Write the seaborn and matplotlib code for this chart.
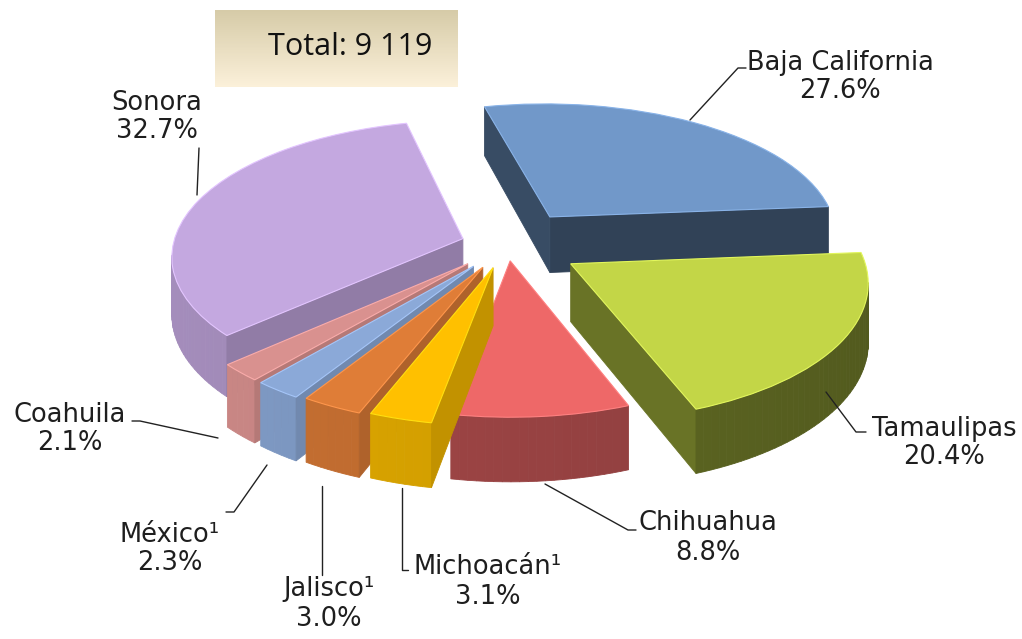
import numpy as np
import seaborn as sns
import matplotlib.pyplot as plt
import matplotlib.transforms as mtransforms
from matplotlib.colors import to_rgb
from matplotlib.patches import Polygon

# Datos: participación por entidad (%)
estados = ["Baja California", "Tamaulipas", "Chihuahua", "Michoacán¹",
           "Jalisco¹", "México¹", "Coahuila", "Sonora"]
porcentajes = [27.6, 20.4, 8.8, 3.1, 3.0, 2.3, 2.1, 32.7]
total = "9 119"
colores = ["#7198c9", "#c3d647", "#ee6868", "#ffc000",
           "#df7d37", "#8ba9d8", "#d9918f", "#c4a8e0"]
separacion = [0.26, 0.255, 0.115, 0.17, 0.18, 0.19, 0.19, 0.16]
# qué tan oscura es la pared lateral de cada rebanada
oscuridad = [0.44, 0.48, 0.64, 0.82, 0.84, 0.86, 0.88, 0.78]

sns.set_theme(style="white")
plt.rcParams['font.family'] = ['DejaVu Sans']

fig = plt.figure(figsize=(10.22, 6.39), dpi=100)
ax = fig.add_axes([0, 0, 1, 1])

cx_px, cy_px, r_px, aplast = 507, 245, 290, 0.47
prof = 57 / (r_px * aplast)
q = 0.12  # perspectiva: lo de atrás se ve más chico


class Perspectiva(mtransforms.Transform):
    input_dims = 2
    output_dims = 2

    def __init__(self, q):
        super().__init__()
        self.q = q

    def transform_non_affine(self, values):
        v = np.asarray(values, dtype=float)
        k = 1 - self.q * v[:, 1]
        return np.column_stack([v[:, 0] * k, v[:, 1] * k])


def proyectar(p, z=0.0):
    k = 1 - q * p[1]
    return np.array([p[0] * k, p[1] * k - z * k])


cunas, _ = ax.pie(porcentajes, explode=separacion, colors=colores,
                  startangle=104, counterclock=False, radius=1, center=(0, 0),
                  wedgeprops=dict(linewidth=0.8))
ax.set_aspect('auto')
ax.set_xlim((0 - cx_px) / r_px, (1022 - cx_px) / r_px)
ax.set_ylim((cy_px - 639) / (r_px * aplast), cy_px / (r_px * aplast))
ax.axis('off')
persp = Perspectiva(q)


def sombra(color, f):
    return tuple(np.clip(np.array(to_rgb(color)) * f, 0, 1))


def unit(a):
    return np.array([np.cos(np.radians(a)), np.sin(np.radians(a))])


def centroide(w):
    return np.array(w.center) + 0.5 * unit((w.theta1 + w.theta2) / 2)


orden = sorted(range(len(cunas)), key=lambda i: -centroide(cunas[i])[1])
for rango, i in enumerate(orden):
    w = cunas[i]
    c = colores[i]
    P = np.array(w.center)
    t1, t2 = w.theta1, w.theta2
    z = 2 + 2 * rango
    angs = np.linspace(t1, t2, max(int((t2 - t1) / 1.5), 2) + 1)
    # contorno de la cara superior en sentido antihorario, con su normal
    contorno = [P] + [P + unit(a) for a in angs]
    normales = [unit(t1 - 90)[0]] + [unit((a0 + a1) / 2)[0]
                                     for a0, a1 in zip(angs[:-1], angs[1:])]
    normales.append(unit(t2 + 90)[0])
    contorno.append(P)
    for (A, B), nx in zip(zip(contorno[:-1], contorno[1:]), normales):
        a_top, b_top = proyectar(A), proyectar(B)
        if b_top[0] - a_top[0] <= 1e-9:
            continue
        pts = [a_top, b_top, proyectar(B, prof), proyectar(A, prof)]
        col = sombra(c, oscuridad[i] - 0.06 * nx)
        ax.add_patch(Polygon(pts, closed=True, facecolor=col, edgecolor=col,
                             linewidth=0.6, zorder=z))
    w.set_transform(persp + ax.transData)
    w.set_zorder(z + 1)
    w.set_edgecolor(tuple(np.clip(np.array(to_rgb(c)) * 1.08 + 0.06, 0, 1)))

# capa de etiquetas en pixeles de la imagen
lab = fig.add_axes([0, 0, 1, 1], zorder=10)
lab.patch.set_alpha(0)

grad = np.linspace(0, 1, 100).reshape(-1, 1)
arriba, abajo = np.array(to_rgb("#d6cba8")), np.array(to_rgb("#fcf1da"))
img = arriba + (abajo - arriba) * grad[..., None]
img = np.repeat(img, 2, axis=1)
lab.imshow(img, extent=[215, 458, 87, 10], aspect='auto', zorder=1)
lab.text(350, 47, f"Total: {total}", ha='center', va='center', fontsize=22,
         family=['Open Sans', 'DejaVu Sans'], color='#111111', zorder=2)
lab.set_xlim(0, 1022)
lab.set_ylim(639, 0)
lab.axis('off')

pos_etiquetas = [(840, 77), (944, 443), (708, 538), (488, 582),
                 (329, 604), (170, 549), (70, 429), (157, 117)]
guias = [
    [(746, 68), (738, 68), (690, 120)],
    [(866, 432), (856, 432), (826, 392)],
    [(636, 530), (628, 530), (545, 484)],
    [(408, 570), (402, 570), (402, 488)],
    [(322, 575), (322, 486)],
    [(226, 512), (234, 512), (267, 465)],
    [(132, 421), (140, 421), (218, 438)],
    [(199, 148), (197, 195)],
]
for nombre, pct, (x, y), g in zip(estados, porcentajes, pos_etiquetas, guias):
    lab.text(x, y, f"{nombre}\n{pct:.1f}%", ha='center', va='center',
             fontsize=18.5, color='#1e1e1e', linespacing=1.15)
    gx, gy = zip(*g)
    lab.plot(gx, gy, color='#222222', lw=1)

fig.savefig("out.png", dpi=100)
